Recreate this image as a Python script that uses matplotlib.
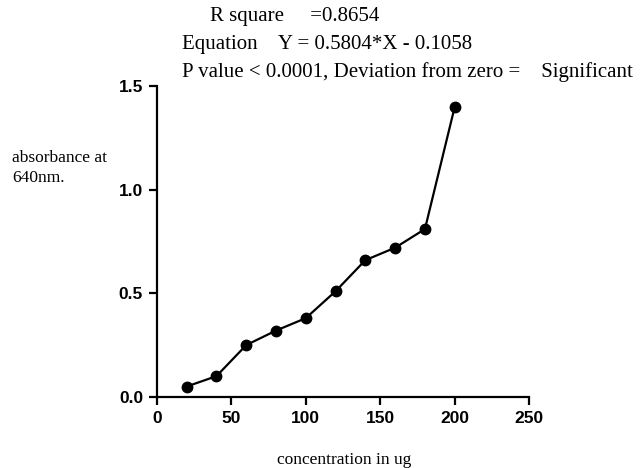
import matplotlib
matplotlib.use("Agg")
import matplotlib.pyplot as plt

# data
conc = [20, 40, 60, 80, 100, 120, 140, 160, 180, 200]
absorb = [0.05, 0.10, 0.25, 0.32, 0.38, 0.51, 0.66, 0.72, 0.81, 1.40]
x_ticks = [0, 50, 100, 150, 200, 250]
y_ticks = [0.0, 0.5, 1.0, 1.5]

serif = "Liberation Serif"
sans = "Liberation Sans"

fig = plt.figure(figsize=(6.43, 4.68), dpi=100)
ax = fig.add_axes([0.244, 0.152, 0.579, 0.664])

ax.plot(conc, absorb, "o-", color="black", lw=1.6, markersize=7.5)

ax.set_xlim(0, 250)
ax.set_ylim(0, 1.5)
ax.set_xticks(x_ticks)
ax.set_yticks(y_ticks)
ax.set_yticklabels([f"{v:.1f}" for v in y_ticks])

for side in ("top", "right"):
    ax.spines[side].set_visible(False)
for side in ("left", "bottom"):
    ax.spines[side].set_linewidth(1.6)
ax.tick_params(direction="out", length=6, width=1.6, labelsize=12.5, pad=4)
for lab in ax.get_xticklabels() + ax.get_yticklabels():
    lab.set_fontfamily(sans)
    lab.set_fontweight("bold")

# axis labels as free text, like the original
fig.text(344 / 643, 1 - 460 / 468, "concentration in ug", family=serif,
         fontsize=12.5, ha="center", va="center")
fig.text(12 / 643, 1 - 168 / 468, "absorbance at\n640nm.", family=serif,
         fontsize=12.5, ha="left", va="center", linespacing=1.3)

# regression summary on top
fig.text(210 / 643, 1 - 17 / 468, "R square     =0.8654", family=serif,
         fontsize=15, ha="left", va="center")
fig.text(182 / 643, 1 - 45 / 468, "Equation    Y = 0.5804*X - 0.1058", family=serif,
         fontsize=15, ha="left", va="center")
fig.text(182 / 643, 1 - 72 / 468, "P value < 0.0001, Deviation from zero =    Significant",
         family=serif, fontsize=15, ha="left", va="center")

fig.savefig("out.png", dpi=100)
